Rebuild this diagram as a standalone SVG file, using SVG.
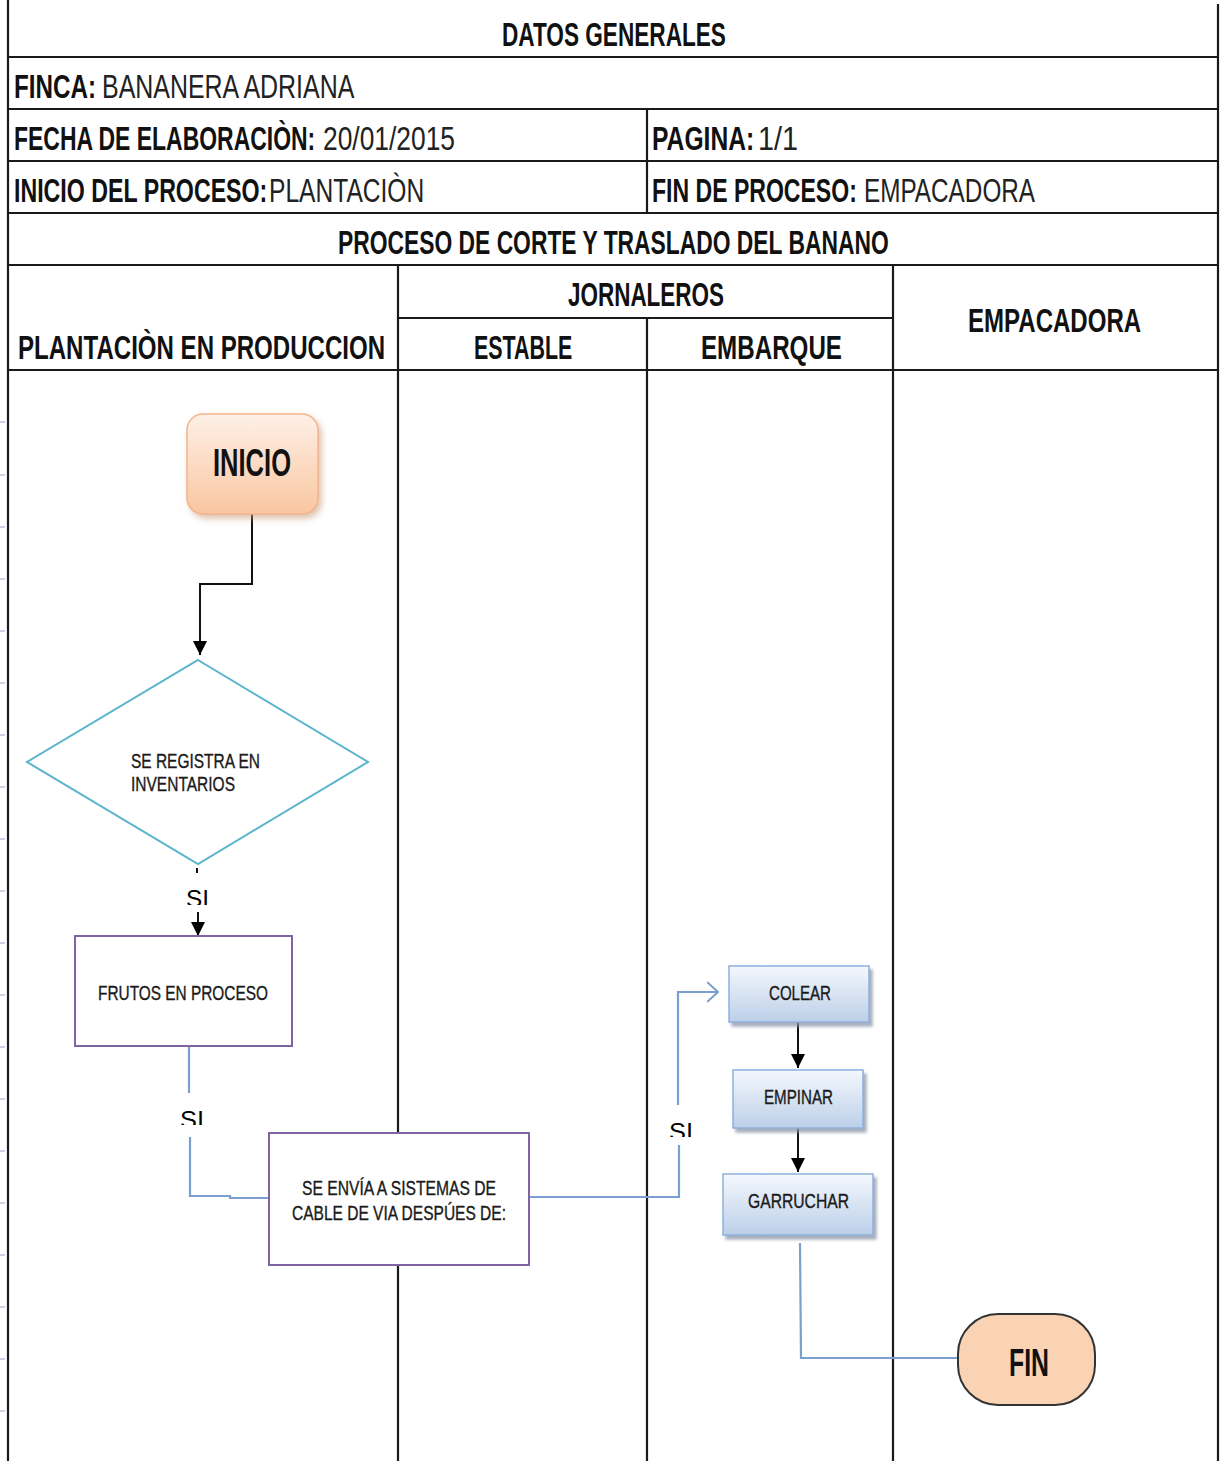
<svg xmlns="http://www.w3.org/2000/svg" width="1221" height="1461" viewBox="0 0 1221 1461">
<style>
.grid{stroke:#1a1a1a;stroke-width:2.2;fill:none}
.h{font-family:"Liberation Sans",Arial,sans-serif;font-size:34px;fill:#222}
.b{font-weight:bold;fill:#111}
.sm{font-family:"Liberation Sans",Arial,sans-serif;font-size:20px;fill:#1a1a1a;stroke:#1a1a1a;stroke-width:0.35}
.si{font-family:"Liberation Sans",Arial,sans-serif;font-size:24px;fill:#000}
.term{font-family:"Liberation Sans",Arial,sans-serif;font-weight:bold;font-size:38px;fill:#111}
.blue{stroke:#7b9fd0;stroke-width:2.2;fill:none}
.blk{stroke:#111;stroke-width:2;fill:none}
.proc{fill:#fff;stroke:#8064a2;stroke-width:2}
.step{fill:url(#gBlue);stroke:#8fb0dc;stroke-width:1.5;filter:url(#sh2)}
.tick{stroke:#b8bfd8;stroke-width:1.5}
</style>
<defs>
<linearGradient id="gPeach" x1="0" y1="0" x2="0" y2="1">
<stop offset="0" stop-color="#fef0e6"/>
<stop offset="1" stop-color="#f9c6a0"/>
</linearGradient>
<linearGradient id="gBlue" x1="0" y1="0" x2="0" y2="1">
<stop offset="0" stop-color="#f4f8fd"/>
<stop offset="1" stop-color="#bccfe9"/>
</linearGradient>
<filter id="sh1" x="-20%" y="-20%" width="150%" height="150%">
<feDropShadow dx="3" dy="4" stdDeviation="3" flood-color="#c89a7a" flood-opacity="0.6"/>
</filter>
<filter id="sh2" x="-20%" y="-20%" width="150%" height="160%">
<feDropShadow dx="3" dy="4" stdDeviation="1.5" flood-color="#8a96aa" flood-opacity="0.75"/>
</filter>
<marker id="aB" viewBox="0 0 10 10" refX="10" refY="5" markerWidth="14" markerHeight="14" markerUnits="userSpaceOnUse" orient="auto">
<path d="M0,0 L10,5 L0,10 z" fill="#000"/>
</marker>
<marker id="aO" viewBox="0 0 12 20" refX="11" refY="10" markerWidth="12" markerHeight="24" markerUnits="userSpaceOnUse" orient="auto">
<path d="M0,0 L11,10 L0,20" fill="none" stroke="#7b9fd0" stroke-width="2"/>
</marker>
<clipPath id="c1"><rect x="170" y="880" width="60" height="25"/></clipPath>
<clipPath id="c2"><rect x="165" y="1100" width="60" height="25"/></clipPath>
<clipPath id="c3"><rect x="655" y="1110" width="60" height="27"/></clipPath>
</defs>

<g id="sheet-ticks">
<line class="tick" x1="0" y1="422" x2="5" y2="422"/>
<line class="tick" x1="0" y1="475" x2="5" y2="475"/>
<line class="tick" x1="0" y1="527" x2="5" y2="527"/>
<line class="tick" x1="0" y1="579" x2="5" y2="579"/>
<line class="tick" x1="0" y1="631" x2="5" y2="631"/>
<line class="tick" x1="0" y1="683" x2="5" y2="683"/>
<line class="tick" x1="0" y1="735" x2="5" y2="735"/>
<line class="tick" x1="0" y1="787" x2="5" y2="787"/>
<line class="tick" x1="0" y1="839" x2="5" y2="839"/>
<line class="tick" x1="0" y1="891" x2="5" y2="891"/>
<line class="tick" x1="0" y1="943" x2="5" y2="943"/>
<line class="tick" x1="0" y1="995" x2="5" y2="995"/>
<line class="tick" x1="0" y1="1047" x2="5" y2="1047"/>
<line class="tick" x1="0" y1="1099" x2="5" y2="1099"/>
<line class="tick" x1="0" y1="1151" x2="5" y2="1151"/>
<line class="tick" x1="0" y1="1203" x2="5" y2="1203"/>
<line class="tick" x1="0" y1="1255" x2="5" y2="1255"/>
<line class="tick" x1="0" y1="1307" x2="5" y2="1307"/>
<line class="tick" x1="0" y1="1359" x2="5" y2="1359"/>
<line class="tick" x1="0" y1="1411" x2="5" y2="1411"/>
</g>

<g id="grid">
<line class="grid" x1="8" y1="0" x2="8" y2="1461"/>
<line class="grid" x1="1218" y1="4" x2="1218" y2="1461"/>
<line class="grid" x1="8" y1="57" x2="1218" y2="57"/>
<line class="grid" x1="8" y1="109" x2="1218" y2="109"/>
<line class="grid" x1="8" y1="161" x2="1218" y2="161"/>
<line class="grid" x1="8" y1="213" x2="1218" y2="213"/>
<line class="grid" x1="8" y1="265" x2="1218" y2="265"/>
<line class="grid" x1="398" y1="318" x2="893" y2="318"/>
<line class="grid" x1="8" y1="370" x2="1218" y2="370"/>
<line class="grid" x1="647" y1="109" x2="647" y2="213"/>
<line class="grid" x1="398" y1="265" x2="398" y2="1461"/>
<line class="grid" x1="647" y1="318" x2="647" y2="1461"/>
<line class="grid" x1="893" y1="265" x2="893" y2="1461"/>
</g>

<g id="header-text">
<text class="h b" transform="translate(502,46) scale(0.665,1)">DATOS GENERALES</text>
<text class="h b" transform="translate(14,98) scale(0.712,1)">FINCA:</text>
<text class="h" transform="translate(102,98) scale(0.734,1)">BANANERA ADRIANA</text>
<text class="h b" transform="translate(14,150) scale(0.675,1)">FECHA DE ELABORACIÒN:</text>
<text class="h" transform="translate(323,150) scale(0.776,1)">20/01/2015</text>
<text class="h b" transform="translate(652,150) scale(0.725,1)">PAGINA:</text>
<text class="h" transform="translate(758,150) scale(0.846,1)">1/1</text>
<text class="h b" transform="translate(14,202) scale(0.682,1)">INICIO DEL PROCESO:</text>
<text class="h" transform="translate(269,202) scale(0.723,1)">PLANTACIÒN</text>
<text class="h b" transform="translate(652,202) scale(0.678,1)">FIN DE PROCESO:</text>
<text class="h" transform="translate(864,202) scale(0.715,1)">EMPACADORA</text>
<text class="h b" transform="translate(338,254) scale(0.672,1)">PROCESO DE CORTE Y TRASLADO DEL BANANO</text>
<text class="h b" transform="translate(568,306) scale(0.661,1)">JORNALEROS</text>
<text class="h b" transform="translate(968,332) scale(0.707,1)">EMPACADORA</text>
<text class="h b" transform="translate(18,359) scale(0.708,1)">PLANTACIÒN EN PRODUCCION</text>
<text class="h b" transform="translate(474,359) scale(0.63,1)">ESTABLE</text>
<text class="h b" transform="translate(701,359) scale(0.711,1)">EMBARQUE</text>
</g>

<g id="connectors">
<polyline class="blk" stroke="#333" points="252,514 252,584 200,584 200,655" marker-end="url(#aB)"/>
<line class="blk" x1="197" y1="868" x2="197" y2="873"/>
<line class="blk" x1="198" y1="912" x2="198" y2="936" marker-end="url(#aB)"/>
<polyline class="blue" points="189,1046 189,1093"/>
<polyline class="blue" points="190,1137 190,1196 230,1196 230,1198 269,1198"/>
<polyline class="blue" points="529,1197 679,1197 679,1145"/>
<polyline class="blue" points="678,1105 678,992 718,992" marker-end="url(#aO)"/>
<line class="blk" x1="798" y1="1022" x2="798" y2="1068" marker-end="url(#aB)"/>
<line class="blk" x1="798" y1="1122" x2="798" y2="1172" marker-end="url(#aB)"/>
<polyline class="blue" points="800,1243 801,1358 958,1358"/>
<text class="si" x="186" y="907" clip-path="url(#c1)" textLength="23" lengthAdjust="spacingAndGlyphs">SI</text>
<text class="si" x="180" y="1128" clip-path="url(#c2)" textLength="24" lengthAdjust="spacingAndGlyphs">SI</text>
<text class="si" x="669" y="1140" clip-path="url(#c3)" textLength="24" lengthAdjust="spacingAndGlyphs">SI</text>
</g>

<g id="inicio">
<rect x="187" y="414" width="131" height="100" rx="16" fill="url(#gPeach)" stroke="#f3b48c" stroke-width="1.5" filter="url(#sh1)"/>
<text class="term" x="213" y="476" textLength="78" lengthAdjust="spacingAndGlyphs">INICIO</text>
</g>

<g id="registro">
<polygon points="198,660 368,762 198,864 27,762" fill="#fff" stroke="#5ab4cc" stroke-width="2"/>
<text class="sm" x="131" y="768" textLength="129" lengthAdjust="spacingAndGlyphs">SE REGISTRA EN</text>
<text class="sm" x="131" y="791" textLength="104" lengthAdjust="spacingAndGlyphs">INVENTARIOS</text>
</g>

<g id="frutos">
<rect class="proc" x="75" y="936" width="217" height="110"/>
<text class="sm" x="98" y="1000" textLength="170" lengthAdjust="spacingAndGlyphs">FRUTOS EN PROCESO</text>
</g>

<g id="envia">
<rect class="proc" x="269" y="1133" width="260" height="132"/>
<text class="sm" x="302" y="1195" textLength="194" lengthAdjust="spacingAndGlyphs">SE ENVÍA A SISTEMAS DE</text>
<text class="sm" x="292" y="1220" textLength="214" lengthAdjust="spacingAndGlyphs">CABLE DE VIA DESPÚES DE:</text>
</g>

<g id="colear">
<rect class="step" x="729" y="966" width="140" height="56"/>
<text class="sm" x="769" y="1000" textLength="62" lengthAdjust="spacingAndGlyphs">COLEAR</text>
</g>

<g id="empinar">
<rect class="step" x="733" y="1070" width="130" height="58"/>
<text class="sm" x="764" y="1104" textLength="69" lengthAdjust="spacingAndGlyphs">EMPINAR</text>
</g>

<g id="garruchar">
<rect class="step" x="723" y="1174" width="150" height="61"/>
<text class="sm" x="748" y="1208" textLength="101" lengthAdjust="spacingAndGlyphs">GARRUCHAR</text>
</g>

<g id="fin">
<rect x="958" y="1314" width="137" height="91" rx="40" fill="#f9d3b4" stroke="#333" stroke-width="2"/>
<text class="term" x="1009" y="1376" textLength="40" lengthAdjust="spacingAndGlyphs">FIN</text>
</g>
</svg>
